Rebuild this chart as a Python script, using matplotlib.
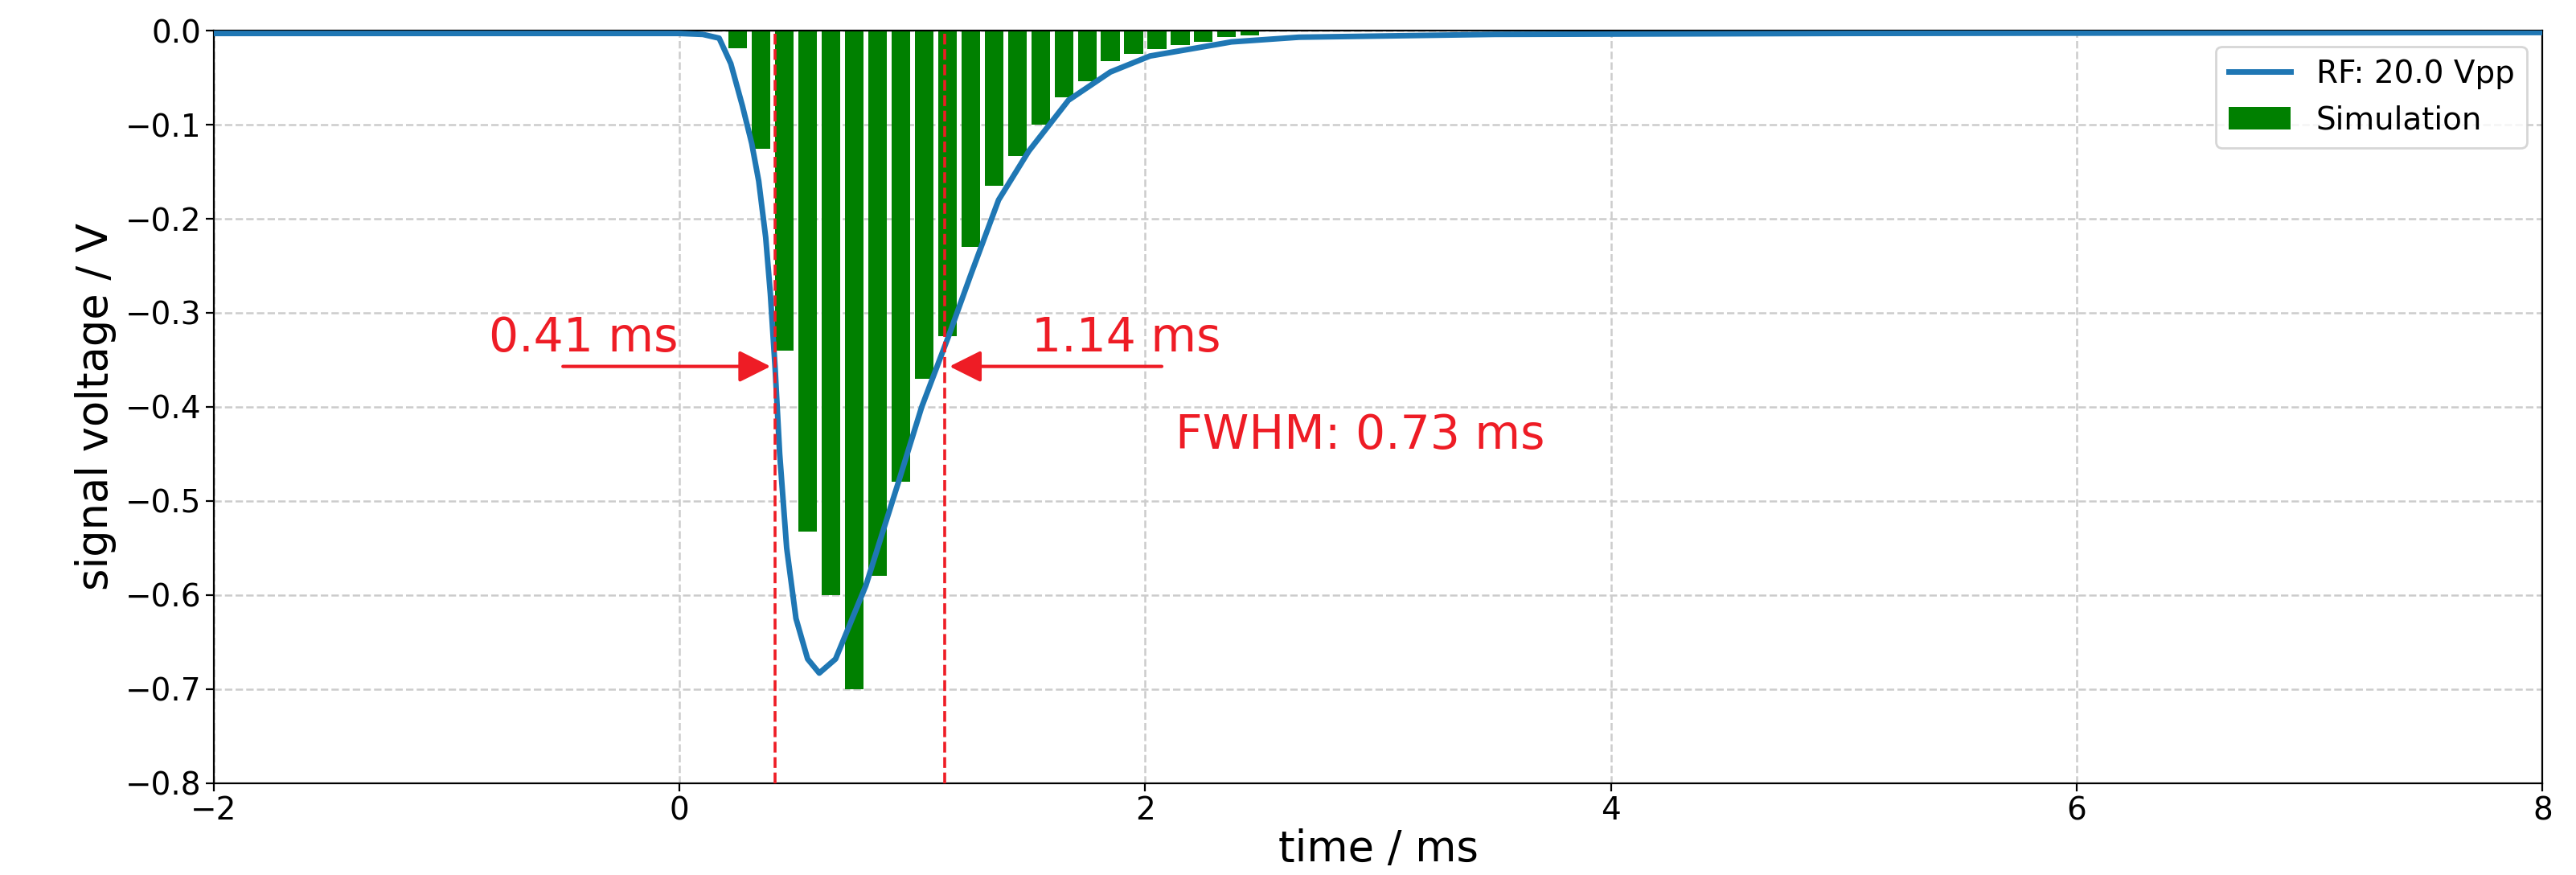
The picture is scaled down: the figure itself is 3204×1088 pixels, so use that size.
import matplotlib.pyplot as plt

# simulated histogram (bar centres in ms, values in V)
sim_t = [0.25, 0.35, 0.45, 0.55, 0.65, 0.75, 0.85, 0.95, 1.05, 1.15, 1.25,
         1.35, 1.45, 1.55, 1.65, 1.75, 1.85, 1.95, 2.05, 2.15, 2.25, 2.35, 2.45]
sim_v = [-0.019, -0.126, -0.34, -0.533, -0.60, -0.70, -0.58, -0.48, -0.37,
         -0.325, -0.23, -0.165, -0.133, -0.10, -0.071, -0.054, -0.032, -0.025,
         -0.02, -0.015, -0.012, -0.007, -0.005]

# measured signal
rf_t = [-2.0, 0.0, 0.1, 0.17, 0.22, 0.27, 0.31, 0.34, 0.37, 0.39, 0.41, 0.43,
        0.46, 0.50, 0.55, 0.60, 0.67, 0.80, 0.94, 1.04, 1.155, 1.25, 1.37,
        1.50, 1.67, 1.85, 2.02, 2.37, 2.66, 3.5, 5.0, 8.0]
rf_v = [-0.003, -0.003, -0.004, -0.008, -0.035, -0.08, -0.12, -0.16, -0.22,
        -0.28, -0.357, -0.45, -0.55, -0.625, -0.668, -0.683, -0.668, -0.59,
        -0.48, -0.40, -0.325, -0.26, -0.18, -0.128, -0.074, -0.044, -0.027,
        -0.012, -0.007, -0.004, -0.003, -0.002]

t_left, t_right = 0.41, 1.14
red = "#ee1c25"

fig = plt.figure(figsize=(16.02, 5.44), dpi=200)
ax = fig.add_axes([0.083, 0.105, 0.904, 0.86])

ax.bar(sim_t, sim_v, width=0.08, color="green", label="Simulation", zorder=2)
ax.plot(rf_t, rf_v, color="#1f77b4", lw=2.5, label="RF: 20.0 Vpp", zorder=3)

for t in (t_left, t_right):
    ax.axvline(t, color=red, ls="--", lw=1.3, zorder=4)

ax.annotate("", xy=(t_left, -0.357), xytext=(-0.52, -0.357),
            arrowprops=dict(arrowstyle="-|>", color=red, lw=1.5, mutation_scale=30))
ax.annotate("", xy=(t_right, -0.357), xytext=(2.09, -0.357),
            arrowprops=dict(arrowstyle="-|>", color=red, lw=1.5, mutation_scale=30))
ax.text(-0.82, -0.327, "0.41 ms", color=red, fontsize=21, va="center")
ax.text(1.51, -0.327, "1.14 ms", color=red, fontsize=21, va="center")
ax.text(2.13, -0.43, "FWHM: 0.73 ms", color=red, fontsize=21, va="center")

ax.set_xlim(-2, 8)
ax.set_ylim(-0.8, 0.0)
ax.set_xticks([-2, 0, 2, 4, 6, 8])
ax.set_yticks([-0.8, -0.7, -0.6, -0.5, -0.4, -0.3, -0.2, -0.1, 0.0])
ax.tick_params(labelsize=14, pad=2)
ax.grid(True, ls="--", color="#cccccc", lw=0.9)
ax.set_axisbelow(True)
ax.set_xlabel("time / ms", fontsize=19, labelpad=1)
ax.set_ylabel("signal voltage / V", fontsize=19)
ax.legend(loc="upper right", fontsize=14)

fig.savefig("out.png", dpi=200)
